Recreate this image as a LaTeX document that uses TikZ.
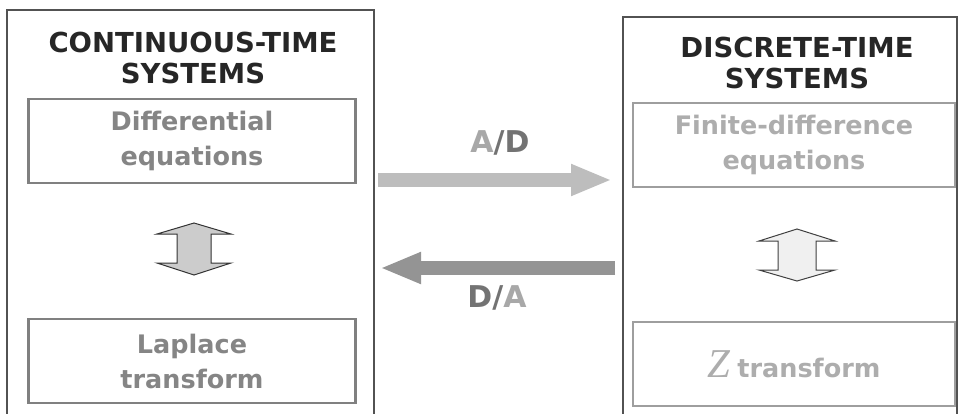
\documentclass[tikz,border=0pt]{standalone}
\usepackage{fontspec}
\setmainfont{DejaVu Sans}
\newfontfamily\zfont{Liberation Serif}
\usetikzlibrary{arrows.meta}

\definecolor{titlegray}{gray}{0.15}
\definecolor{framegray}{gray}{0.32}
\definecolor{ctext}{gray}{0.52}
\definecolor{dtext}{gray}{0.68}
\definecolor{cbox}{gray}{0.50}
\definecolor{dbox}{gray}{0.62}
\definecolor{adgray}{gray}{0.74}
\definecolor{dagray}{gray}{0.58}
\definecolor{lightA}{gray}{0.66}
\definecolor{darkD}{gray}{0.45}

\tikzset{
  title/.style={font=\bfseries\fontsize{27.5}{31}\selectfont, text=titlegray, align=center},
  inbox/.style={draw, line width=2.6pt, minimum width=#1, minimum height=84pt, inner sep=0pt, align=center},
  ctextbox/.style={inbox=327pt, draw=cbox, text=ctext, font=\bfseries\fontsize{25.5}{35}\selectfont},
  dtextbox/.style={inbox=322pt, draw=dbox, text=dtext, font=\bfseries\fontsize{25.5}{35}\selectfont},
  panelline/.style={draw=framegray, line width=1.3pt},
  bigarrow/.style={line width=14pt, -{Triangle[length=41pt, width=29pt]}},
  lbl/.style={font=\bfseries\fontsize{30}{30}\selectfont, inner sep=0pt},
  dblarrow/.style={line width=1pt, line join=miter},
}

\begin{document}
\begin{tikzpicture}[x=1pt, y=-1pt]
\useasboundingbox[fill=white] (0,0) rectangle (959,413);

% two panels, open at the bottom
\coordinate (cpanelbl) at (7,414);
\coordinate (cpaneltl) at (7,10);
\coordinate (cpaneltr) at (374,10);
\coordinate (cpanelbr) at (374,414);
\draw[panelline] (cpanelbl) -- (cpaneltl) -- (cpaneltr) -- (cpanelbr);
\coordinate (dpanelbl) at (623,414);
\coordinate (dpaneltl) at (623,17);
\coordinate (dpaneltr) at (957,17);
\coordinate (dpanelbr) at (957,414);
\draw[panelline] (dpanelbl) -- (dpaneltl) -- (dpaneltr) -- (dpanelbr);

% titles
\node[title] (ctitle) at (193,58) {CONTINUOUS-TIME\\SYSTEMS};
\node[title] (dtitle) at (797,63) {DISCRETE-TIME\\SYSTEMS};

% inner boxes
\node[ctextbox] (diffeq) at (192,141) {Differential\\equations};
\node[ctextbox] (laplace) at (192,361) {Laplace\\transform};
\node[dtextbox] (finite) at (794,145) {Finite-difference\\equations};
\node[dtextbox] (ztrans) at (794,364) {{\zfont\itshape\mdseries\fontsize{41}{41}\selectfont Z}\;transform};

% double-headed block arrows between the boxes
\draw[dblarrow, draw=black!80, fill=black!20]
  (194,223) -- (231,234) -- (211,234) -- (211,263) -- (231,263) -- (194,275)
  -- (157,263) -- (177,263) -- (177,234) -- (157,234) -- cycle;
\draw[dblarrow, draw=black!75, fill=black!6]
  (797,229) -- (835,241) -- (816,241) -- (816,270) -- (835,270) -- (797,281)
  -- (759,270) -- (778,270) -- (778,241) -- (759,241) -- cycle;

% conversion arrows
\coordinate (adstart) at (378,180);
\coordinate (adend) at (612,180);
\draw[bigarrow, draw=adgray, fill=adgray] (adstart) -- (adend);
\coordinate (dastart) at (615,268);
\coordinate (daend) at (380,268);
\draw[bigarrow, draw=dagray, fill=dagray] (dastart) -- (daend);

\node[lbl] (adlabel) at (500,143) {\textcolor{lightA}{A}\textcolor{black!55}{/}\textcolor{darkD}{D}};
\node[lbl] (dalabel) at (497,298) {\textcolor{darkD}{D}\textcolor{black!55}{/}\textcolor{lightA}{A}};
\end{tikzpicture}
\end{document}
